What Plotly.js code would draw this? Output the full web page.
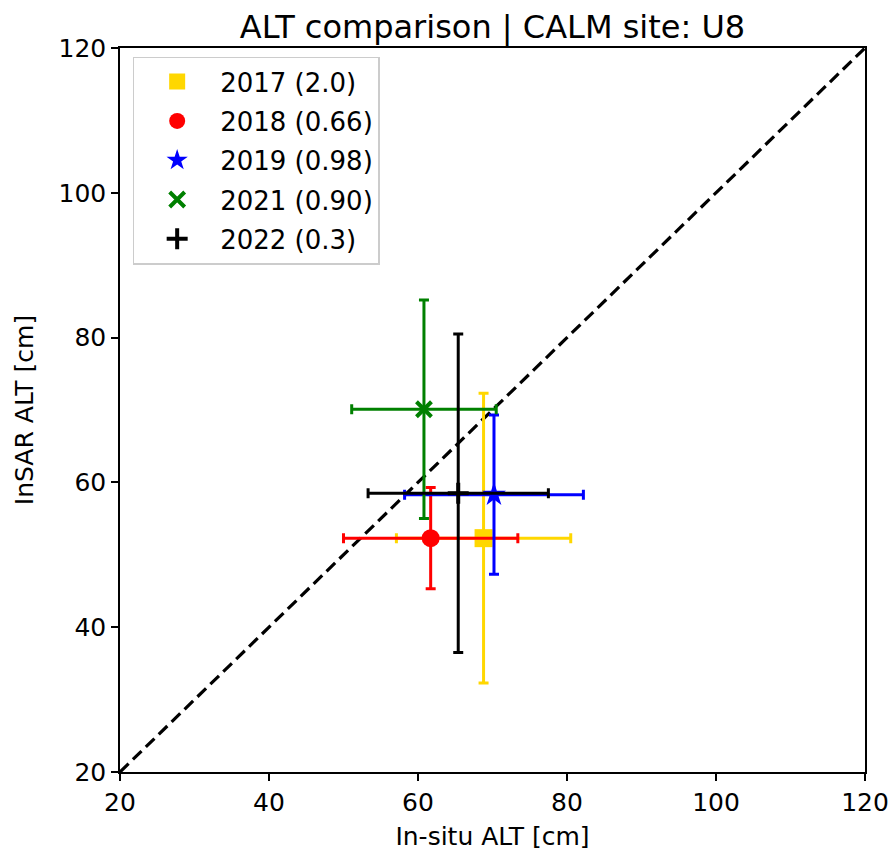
<!DOCTYPE html>
<html>
<head>
<meta charset="utf-8">
<script src="https://cdn.plot.ly/plotly-3.0.1.min.js"></script>
<style>html,body{margin:0;padding:0;background:#fff;}#chart{width:893px;height:854px;}</style>
</head>
<body>
<div id="chart"></div>
<script>
const labels = ["2017 (2.0)", "2018 (0.66)", "2019 (0.98)", "2021 (0.90)", "2022 (0.3)"];
const insituALT = [68.8, 61.7, 70.2, 60.8, 65.4];
const insarALT = [52.3, 52.3, 58.3, 70.1, 58.5];
const insituErr = [11.7, 11.7, 12.0, 9.7, 12.1];
const insarErr = [20.0, 7.0, 11.0, 15.1, 22.0];
const colors = ["#FFD700", "#FF0000", "#0000FF", "#008000", "#000000"];
const symbols = ["square", "circle", "star", "x-thin", "cross-thin"];
const sizes = [18, 18, 18, 15, 15];
const oneToOne = [20, 120];

const traces = [{
  x: oneToOne, y: oneToOne, mode: "lines", showlegend: false,
  line: {color: "black", width: 3.2, dash: "12px,6px"}, hoverinfo: "skip"
}];
for (let i = 0; i < labels.length; i++) {
  const thin = symbols[i].endsWith("-thin");
  traces.push({
    x: [insituALT[i]], y: [insarALT[i]], mode: "markers", name: labels[i],
    legendgroup: "g" + i,
    marker: {color: colors[i], symbol: symbols[i], size: sizes[i],
      line: thin ? {color: colors[i], width: 4} : {width: 0}},
    error_x: {type: "data", array: [insituErr[i]], color: colors[i], thickness: 3, width: 5},
    error_y: {type: "data", array: [insarErr[i]], color: colors[i], thickness: 3, width: 5}
  });
}

const axisCommon = {
  range: [20, 120], tickvals: [20, 40, 60, 80, 100, 120],
  showgrid: false, zeroline: false, showline: true, mirror: true,
  linecolor: "black", linewidth: 1.5, ticks: "outside", ticklen: 7, tickwidth: 1.5,
  tickcolor: "black", tickfont: {size: 25, color: "black"}
};

const layout = {
  width: 893, height: 854,
  margin: {l: 120, r: 28, t: 48, b: 82},
  paper_bgcolor: "white", plot_bgcolor: "white",
  font: {family: "DejaVu Sans", color: "black"},
  title: {text: "ALT comparison | CALM site: U8", font: {size: 32},
    xref: "paper", x: 0.5, xanchor: "center", yref: "paper", y: 1, yanchor: "bottom", pad: {b: 10}},
  xaxis: Object.assign({}, axisCommon, {title: {text: "In-situ ALT [cm]", font: {size: 25}, standoff: 12}}),
  yaxis: Object.assign({}, axisCommon, {title: {text: "InSAR ALT [cm]", font: {size: 25}, standoff: 18}}),
  legend: {x: 0.017, y: 0.988, xanchor: "left", yanchor: "top",
    bordercolor: "#cccccc", borderwidth: 1.5, bgcolor: "rgba(255,255,255,0.8)",
    font: {size: 26}, tracegroupgap: 2.5, itemwidth: 76},
  showlegend: true
};

Plotly.newPlot("chart", traces, layout, {displayModeBar: false});
</script>
</body>
</html>
